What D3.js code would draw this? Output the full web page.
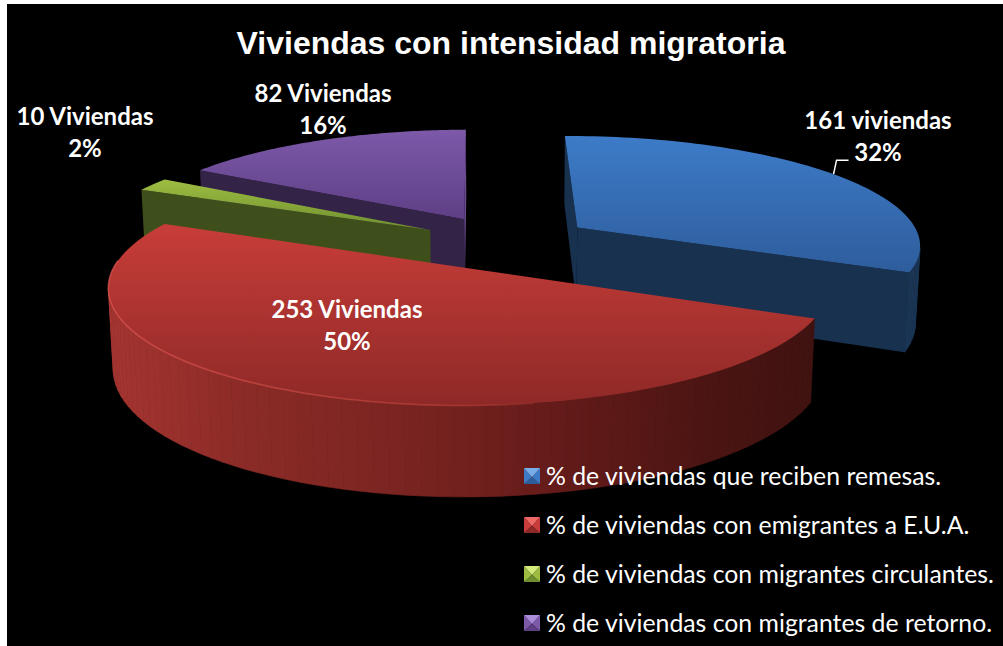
<!DOCTYPE html>
<html>
<head>
<meta charset="utf-8">
<script src="https://cdn.jsdelivr.net/npm/d3@7"></script>
<style>
body { margin: 0; background: #fff; }
svg { display: block; }
</style>
</head>
<body>
<script>
var categories = [
    "% de viviendas que reciben remesas.",
    "% de viviendas con emigrantes a E.U.A.",
    "% de viviendas con migrantes circulantes.",
    "% de viviendas con migrantes de retorno."
];
var values = [161, 253, 10, 82];
var countLabels = ["161 viviendas", "253 Viviendas", "10 Viviendas", "82 Viviendas"];

var width = 1003, height = 646;

// camera fitted to the picture; pie radius is 1
var cam = { cx: 506.17, cy: 242.4, f: 2252.4, d: 6.537, el: 0.3214, explode: 0.2522, depth: 0.2387, rot: -0.012 };

var palette = [
    { top: "#3d7bc8", low: "#2e5d9c", wall: "#18314f", side: "#1b3656", light: "#78aee8" },
    { top: "#c83d39", low: "#8e2927", wall: "#3f1210", side: "url(#redWall)", light: "#ee6a66" },
    { top: "#9dbd42", low: "#6f8f2f", wall: "#3f4f1b", side: "#4a5d20", light: "#d4ea7c" },
    { top: "#7d59a9", low: "#5e3f85", wall: "#332347", side: "#6a4b91", light: "#ab8cd8" }
];

var labelSpots = [[878, 129], [347, 318], [85, 125], [323, 102]];

var svg = d3.select("body").append("svg")
            .attr("width", width)
            .attr("height", height);
var defs = svg.append("defs");

svg.append("rect")
   .attr("x", 7).attr("y", 4)
   .attr("width", width - 7).attr("height", height - 4)
   .attr("fill", "#000");

var slices = d3.pie().sort(null)(values);
var percent = d3.format(".0%"), total = d3.sum(values);

function project(X, Y, Z) {
    var w = cam.d - Y * Math.cos(cam.el) - Z * Math.sin(cam.el);
    var v = Y * Math.sin(cam.el) - Z * Math.cos(cam.el);
    return [cam.cx + cam.f * X / w, cam.cy + cam.f * v / w];
}

// point of a slice: rho 0 is the apex, rho 1 the rim
function slicePoint(s, angle, rho, bottom) {
    var mid = (s.startAngle + s.endAngle) / 2 + cam.rot, a = angle + cam.rot;
    return project(cam.explode * Math.sin(mid) + rho * Math.sin(a),
                   -cam.explode * Math.cos(mid) - rho * Math.cos(a),
                   bottom ? -cam.depth : 0);
}

function rim(s, bottom, from, to) {
    var t = d3.scaleLinear().domain([0, 80]).range([from === undefined ? s.startAngle : from, to === undefined ? s.endAngle : to]);
    return d3.range(81).map(function(i) { return slicePoint(s, t(i), 1, bottom); });
}

var line = d3.line();

// shading of the red outer wall runs from left to right
var wallGrad = defs.append("linearGradient").attr("id", "redWall").attr("gradientUnits", "userSpaceOnUse")
                   .attr("x1", 105).attr("x2", 815).attr("y1", 0).attr("y2", 0);
[[0, "#a63531"], [0.19, "#8c2b27"], [0.42, "#7a2421"], [0.64, "#641b19"], [0.84, "#4c1513"], [1, "#3f1210"]].forEach(function(d) {
    wallGrad.append("stop").attr("offset", d[0]).attr("stop-color", d[1]);
});

function drawSlice(i) {
    var s = slices[i], c = palette[i], g = svg.append("g");
    var topRim = rim(s, false), bottomRim = rim(s, true);
    var apex = slicePoint(s, 0, 0, false), apexLow = slicePoint(s, 0, 0, true);

    // cut faces, only the ones turned to the viewer
    var endFace = [apex, slicePoint(s, s.endAngle, 1, false), slicePoint(s, s.endAngle, 1, true), apexLow];
    var startFace = [apex, slicePoint(s, s.startAngle, 1, false), slicePoint(s, s.startAngle, 1, true), apexLow];
    if (d3.polygonArea(endFace) < 0) {
        g.append("path").attr("d", line(endFace) + "Z").attr("fill", i === 3 ? c.side : c.wall);
    }
    if (d3.polygonArea(startFace) > 0) {
        g.append("path").attr("d", line(startFace) + "Z").attr("fill", c.wall);
    }

    // outer wall, one strip per rim step, skipping the far side
    var strips = d3.range(80).map(function(k) {
        return [topRim[k], topRim[k + 1], bottomRim[k + 1], bottomRim[k]];
    }).filter(function(q) { return d3.polygonArea(q) > 0; });
    g.selectAll("path.strip").data(strips).enter().append("path")
     .attr("class", "strip")
     .attr("d", function(q) { return line(q) + "Z"; })
     .attr("fill", c.side)
     .attr("stroke", c.side)
     .attr("stroke-width", 0.6);

    // top face
    var ys = d3.extent(topRim.concat([apex]), function(p) { return p[1]; });
    var grad = defs.append("linearGradient").attr("id", "top" + i).attr("gradientUnits", "userSpaceOnUse")
                   .attr("x1", 0).attr("x2", 0).attr("y1", ys[0]).attr("y2", ys[1]);
    grad.append("stop").attr("offset", 0).attr("stop-color", c.top);
    grad.append("stop").attr("offset", 1).attr("stop-color", c.low);
    g.append("path")
     .attr("d", line([apex].concat(topRim)) + "Z")
     .attr("fill", "url(#top" + i + ")");
}

// back to front
[3, 2, 0, 1].forEach(drawSlice);

// bright edge on the red front rim
var red = slices[1];
var rimFade = defs.append("linearGradient").attr("id", "rimFade").attr("gradientUnits", "userSpaceOnUse")
                  .attr("x1", 105).attr("x2", 600).attr("y1", 0).attr("y2", 0);
rimFade.append("stop").attr("offset", 0).attr("stop-color", "#d8524d").attr("stop-opacity", 0.8);
rimFade.append("stop").attr("offset", 0.7).attr("stop-color", "#c8463f").attr("stop-opacity", 0.6);
rimFade.append("stop").attr("offset", 1).attr("stop-color", "#c0403a").attr("stop-opacity", 0);
svg.append("path")
   .attr("d", line(rim(red, false, Math.PI * 0.95, red.endAngle - 0.35)))
   .attr("fill", "none")
   .attr("stroke", "url(#rimFade)")
   .attr("stroke-width", 1.5);

// title
svg.append("text")
   .attr("x", 511).attr("y", 54)
   .attr("text-anchor", "middle")
   .attr("fill", "#fff")
   .style("font", "bold 32px 'Liberation Sans', Arial, sans-serif")
   .text("Viviendas con intensidad migratoria");

// data labels
var labels = svg.selectAll("g.label").data(slices).enter().append("g").attr("class", "label")
                .attr("text-anchor", "middle")
                .attr("fill", "#fff")
                .style("font", "bold 24px Lato, sans-serif");
labels.append("text")
      .attr("x", function(d, i) { return labelSpots[i][0]; })
      .attr("y", function(d, i) { return labelSpots[i][1]; })
      .text(function(d, i) { return countLabels[i]; });
labels.append("text")
      .attr("x", function(d, i) { return labelSpots[i][0]; })
      .attr("y", function(d, i) { return labelSpots[i][1] + 32; })
      .text(function(d) { return percent(d.value / total); });

// leader line of the blue label
var anchor = slicePoint(slices[0], slices[0].endAngle * 0.5, 1, false);
svg.append("path")
   .attr("d", line([anchor, [anchor[0] + 3, anchor[1] - 14], [anchor[0] + 15, anchor[1] - 14]]))
   .attr("fill", "none")
   .attr("stroke", "#fff")
   .attr("stroke-width", 1.5);

// legend
var legendY = d3.scalePoint().domain(categories).range([485, 632]);
var legend = svg.selectAll("g.legend").data(categories).enter().append("g").attr("class", "legend")
                .attr("transform", function(d) { return "translate(524," + legendY(d) + ")"; });

// bevelled marker: four triangles meeting near the middle
var size = 16, tip = [size / 2, -8];
var bevel = [
    { pts: [[0, -17], [0, -1], tip], shade: "top" },
    { pts: [[size, -17], [size, -1], tip], shade: "top" },
    { pts: [[0, -1], [size, -1], tip], shade: "low" },
    { pts: [[0, -17], [size, -17], tip], shade: "light" }
];
bevel.forEach(function(b) {
    legend.append("path")
          .attr("d", line(b.pts) + "Z")
          .attr("fill", function(d, i) { return palette[i][b.shade]; });
});
legend.append("text")
      .attr("x", 22)
      .attr("fill", "#fff")
      .style("font", "24.8px Lato, sans-serif")
      .text(function(d) { return d; });
</script>
</body>
</html>
